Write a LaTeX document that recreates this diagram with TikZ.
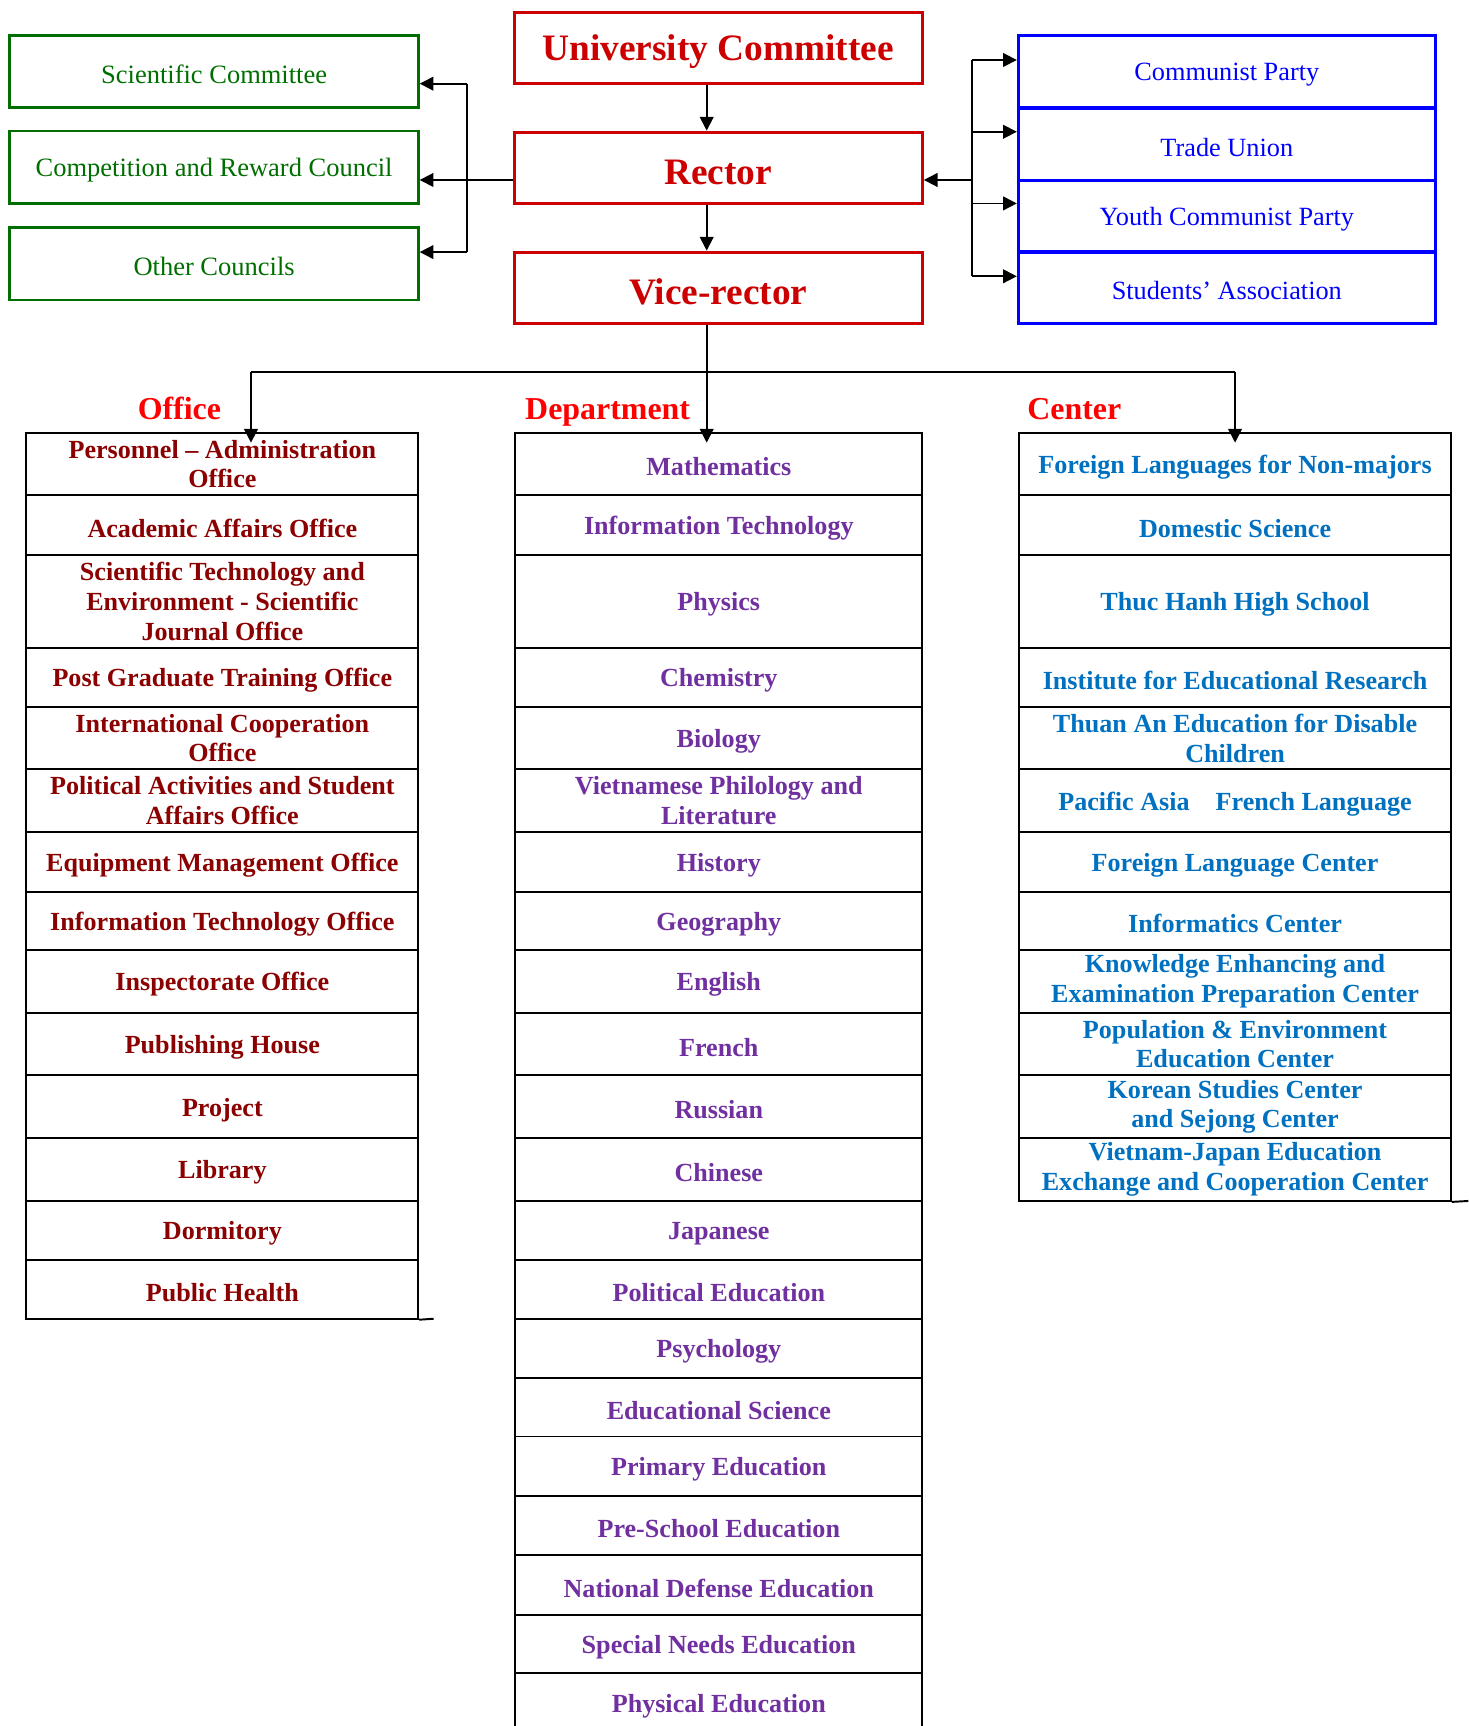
\documentclass[tikz,border=0pt]{standalone}
\usepackage{fontspec}
\setmainfont{Liberation Serif}
\usetikzlibrary{arrows.meta}
\definecolor{offred}{RGB}{139,0,0}
\definecolor{deppurple}{RGB}{112,48,160}
\definecolor{cenblue}{RGB}{0,112,192}
\definecolor{topred}{RGB}{204,0,0}
\definecolor{coungreen}{RGB}{0,110,0}
\definecolor{orgblue}{RGB}{0,0,255}

\begin{document}
\begin{tikzpicture}[x=0.02cm,y=-0.02cm,
  every node/.style={inner sep=0pt,align=center},
  topbox/.style={draw=topred,line width=1.5pt,text=topred,minimum width=7.42cm,minimum height=1.3cm,font=\fontsize{19.3}{22}\selectfont\bfseries,execute at begin node={\rule{0pt}{17pt}}},
  counbox/.style={draw=coungreen,line width=1.5pt,text=coungreen,minimum width=7.42cm,minimum height=1.32cm,font=\fontsize{13.7}{16}\selectfont,execute at begin node={\rule{0pt}{12.5pt}}},
  orgbox/.style={draw=orgblue,line width=1.5pt,text=orgblue,minimum width=7.58cm,minimum height=1.31cm,font=\fontsize{13.6}{16}\selectfont,execute at begin node={\rule{0pt}{12.5pt}}},
  rowbox/.style={draw=black,line width=1pt,font=\fontsize{13.5}{15.4}\selectfont\bfseries},
  rowtext/.style={execute at begin node={\rule{0pt}{12.5pt}}},
  offbox/.style={rowbox,rowtext,text=offred,minimum width=7.12cm},
  depbox/.style={rowbox,rowtext,text=deppurple,minimum width=7.4cm},
  cenbox/.style={rowbox,rowtext,text=cenblue,minimum width=7.84cm},
  head/.style={text=red,anchor=base,font=\fontsize{16.5}{19}\selectfont\bfseries},
  link/.style={line width=0.9pt},
  arr/.style={link,-{Triangle[length=0.25cm,width=0.25cm]}}
]
\clip (0,0) rectangle (1334,1568);

\node[topbox] (uc) at (652.5,43.5) {University Committee};
\node[topbox] (rector) at (652.5,152.5) {Rector};
\node[topbox] (vice) at (652.5,261.5) {Vice-rector};

\node[counbox] (sci) at (194.5,65) {Scientific Committee};
\node[counbox] (comp) at (194.5,152) {Competition and Reward Council};
\node[counbox] (other) at (194.5,239.5) {Other Councils};

\node[orgbox] (party) at (1114.5,65) {Communist Party};
\node[orgbox] (union) at (1114.5,131) {Trade Union};
\node[orgbox] (youth) at (1114.5,196.5) {Youth Communist Party};
\node[orgbox] (stud) at (1114.5,261.5) {Students’ Association};

\coordinate (vx) at (642,0);
\draw[arr] (uc.south -| vx) -- (rector.north -| vx);
\draw[arr] (rector.south -| vx) -- (vice.north -| vx);

\coordinate (cl) at (424,163.5);
\coordinate (ct) at (424,76);
\coordinate (cb) at (424,229);
\draw[arr] (rector.west |- cl) -- (comp.east |- cl);
\draw[link] (ct) -- (cb);
\draw[arr] (ct) -- (sci.east |- ct);
\draw[arr] (cb) -- (other.east |- cb);

\coordinate (cr) at (883,163.5);
\coordinate (p1) at (883,54.5);
\coordinate (p2) at (883,119.7);
\coordinate (p3) at (883,184.8);
\coordinate (p4) at (883,251);
\draw[arr] (cr) -- (rector.east |- cr);
\draw[link] (p1) -- (p4);
\draw[arr] (p1) -- (party.west |- p1);
\draw[arr] (p2) -- (union.west |- p2);
\draw[arr] (p3) -- (youth.west |- p3);
\draw[arr] (p4) -- (stud.west |- p4);

\node[head] (hoff) at (163,381) {Office};
\node[head] (hdep) at (552,381) {Department};
\node[head] (hcen) at (976,381) {Center};

\foreach [count=\i] \ya/\yb/\txt in {
  393/450/{Personnel – Administration\\Office},
  450/504/{Academic Affairs Office},
  504/589/{Scientific Technology and\\Environment - Scientific\\Journal Office},
  589/642/{Post Graduate Training Office},
  642/699/{International Cooperation\\Office},
  699/756/{Political Activities and Student\\Affairs Office},
  756/810/{Equipment Management Office},
  810/863/{Information Technology Office},
  863/920/{Inspectorate Office},
  920/977/{Publishing House},
  977/1034/{Project},
  1034/1091/{Library},
  1091/1145/{Dormitory},
  1145/1198/{Public Health}}
  \node[offbox,minimum height={(\yb-\ya)*0.02cm}] (off\i) at (202,{(\ya+\yb)/2}) {\txt};

\foreach [count=\i] \ya/\yb/\txt in {
  393/450/{Mathematics},
  450/504/{Information Technology},
  504/589/{Physics},
  589/642/{Chemistry},
  642/699/{Biology},
  699/756/{Vietnamese Philology and\\Literature},
  756/810/{History},
  810/863/{Geography},
  863/920/{English},
  920/977/{French},
  977/1034/{Russian},
  1034/1091/{Chinese},
  1091/1145/{Japanese},
  1145/1198/{Political Education},
  1198/1252/{Psychology},
  1252/1305/{Educational Science},
  1305/1359/{Primary Education},
  1359/1413/{Pre-School Education},
  1413/1467/{National Defense Education},
  1467/1520/{Special Needs Education},
  1520/1574/{Physical Education}}
  \node[depbox,minimum height={(\yb-\ya)*0.02cm}] (dep\i) at (653,{(\ya+\yb)/2}) {\txt};

\foreach [count=\i] \ya/\yb/\txt in {
  393/450/{Foreign Languages for Non-majors},
  450/504/{Domestic Science},
  504/589/{Thuc Hanh High School},
  589/642/{Institute for Educational Research},
  642/699/{Thuan An Education for Disable\\Children},
  699/756/{Pacific Asia\quad French Language},
  756/810/{Foreign Language Center},
  810/863/{Informatics Center},
  863/920/{Knowledge Enhancing and\\Examination Preparation Center},
  920/977/{Population \& Environment\\Education Center},
  977/1034/{Korean Studies Center\\and Sejong Center},
  1034/1091/{Vietnam-Japan Education\\Exchange and Cooperation Center}}
  \node[cenbox,minimum height={(\yb-\ya)*0.02cm}] (cen\i) at (1122,{(\ya+\yb)/2}) {\txt};

\draw[rowbox] (off14.south east) -- (394,1198);
\draw[rowbox] (cen12.south east) -- (1334,1091);

\coordinate (bl) at (228,338);
\coordinate (br) at (1122,338);
\draw[link] (bl) -- (br);
\draw[arr] (vice.south -| vx) -- ([yshift=-0.2cm]dep1.north -| vx);
\draw[arr] (bl) -- ([yshift=-0.2cm]off1.north -| bl);
\draw[arr] (br) -- ([yshift=-0.2cm]cen1.north -| br);
\end{tikzpicture}
\end{document}
